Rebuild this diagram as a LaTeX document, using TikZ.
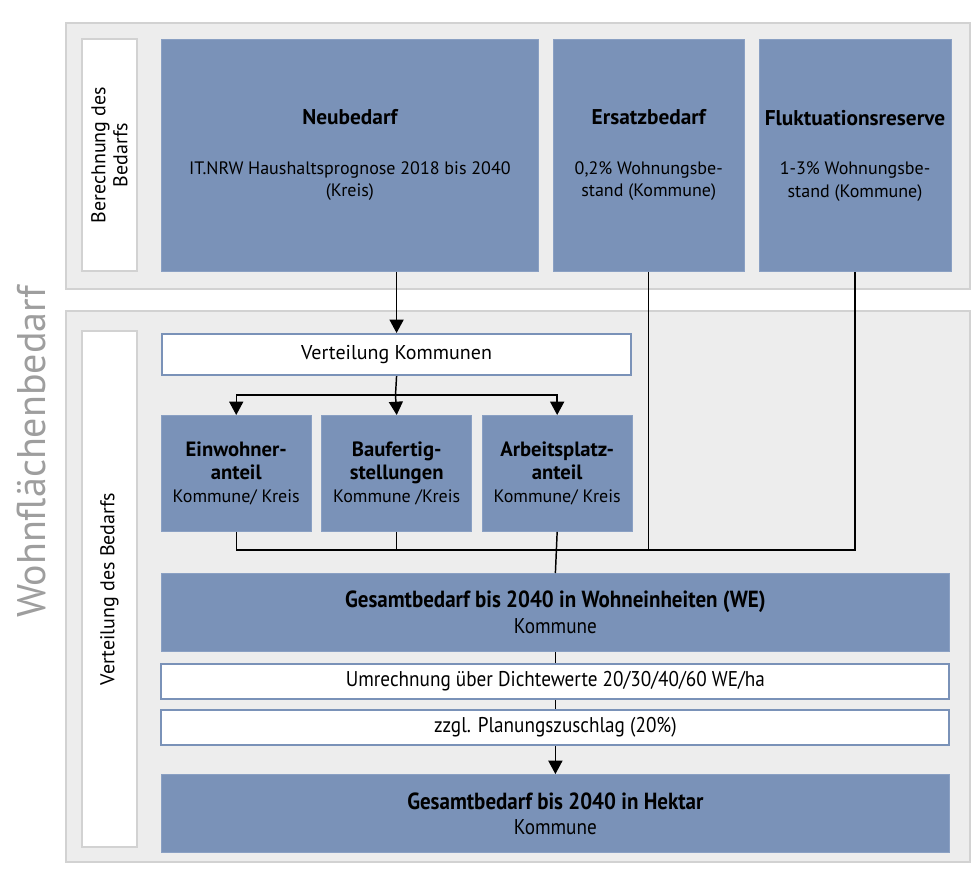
\documentclass[tikz,border=0pt]{standalone}
\usepackage{fontspec}
\setmainfont{PT Sans}
\newfontfamily\narrowfont[FakeStretch=0.9]{PT Sans}
\usetikzlibrary{arrows.meta, positioning}

\definecolor{boxblue}{RGB}{122,146,184}
\definecolor{boxedge}{RGB}{138,160,195}
\definecolor{panelgray}{RGB}{237,237,237}
\definecolor{paneledge}{RGB}{210,210,210}
\definecolor{titlegray}{RGB}{158,158,158}

\begin{document}
\begin{tikzpicture}[
    x=0.75pt, y=-0.75pt,
    panel/.style={draw=paneledge, fill=panelgray, line width=1pt},
    sidebox/.style={draw=paneledge, fill=white, line width=1pt, rotate=90, inner sep=0pt, align=center, minimum height=41.25pt, font=\fontsize{15}{16.5}\selectfont},
    bluebox/.style={draw=boxedge, fill=boxblue, line width=0.6pt, anchor=north west, inner sep=2pt, align=center, font=\fontsize{13.5}{17}\selectfont},
    whitebox/.style={draw=boxblue, fill=white, line width=1.6pt, anchor=north west, inner sep=0pt, align=center, font=\fontsize{13.5}{17}\selectfont},
    conn/.style={line width=1.1pt, black},
    >={Triangle[width=10.5pt, length=10pt]},
]
\useasboundingbox (0,0) rectangle (971,883);

% panels
\draw[panel] (66,23) rectangle (970,289);
\draw[panel] (66,311) rectangle (970,862);
\node[rotate=90, text=titlegray, font=\fontsize{30}{34}\selectfont] (title) at (31,452) {Wohnflächenbedarf};

% Berechnung des Bedarfs
\node[sidebox, minimum width=174pt] (lab1) at (109.5,155) {Berechnung des\\Bedarfs};
\node[bluebox, minimum width=282.75pt, minimum height=174pt] (neu) at (161,39) {%
{\fontsize{16}{17}\selectfont\bfseries Neubedarf}\\[20pt]%
IT.NRW Haushaltsprognose 2018 bis 2040\\(Kreis)%
};
\node[bluebox, minimum width=143.25pt, minimum height=174pt, right=10.5pt of neu] (ersatz) {%
{\fontsize{16}{17}\selectfont\bfseries Ersatzbedarf}\\[20pt]%
0,2\% Wohnungsbe-\\stand (Kommune)%
};
\node[bluebox, minimum width=144pt, minimum height=174pt, right=10.5pt of ersatz] (flukt) {%
{\fontsize{16}{17}\selectfont\bfseries Fluktuationsreserve}\\[20pt]%
1-3\% Wohnungsbe-\\stand (Kommune)%
};

% Verteilung des Bedarfs
\node[sidebox, minimum width=387pt] (lab2) at (109.5,589) {Verteilung des Bedarfs};
\node[whitebox, minimum width=351.75pt, minimum height=30.75pt, font=\fontsize{15}{17}\selectfont] (vk) at (161,333) {Verteilung Kommunen};
\node[bluebox, minimum width=112.25pt, minimum height=87pt] (ew) at (161,415) {%
{\fontsize{15.5}{17}\selectfont\bfseries Einwohner-}\\{\fontsize{15.5}{17}\selectfont\bfseries anteil}\\Kommune/ Kreis%
};
\node[bluebox, minimum width=112.25pt, minimum height=87pt, right=7.5pt of ew] (bf) {%
{\fontsize{15.5}{17}\selectfont\bfseries Baufertig-}\\{\fontsize{15.5}{17}\selectfont\bfseries stellungen}\\Kommune /Kreis%
};
\node[bluebox, minimum width=112.25pt, minimum height=87pt, right=7.5pt of bf] (ap) {%
{\fontsize{15.5}{17}\selectfont\bfseries Arbeitsplatz-}\\{\fontsize{15.5}{17}\selectfont\bfseries anteil}\\Kommune/ Kreis%
};
\node[bluebox, minimum width=591pt, minimum height=58.5pt, font=\narrowfont\fontsize{16}{19}\selectfont] (we) at (161,573) {%
{\fontsize{17.5}{19}\selectfont\bfseries Gesamtbedarf bis 2040 in Wohneinheiten (WE)}\\Kommune%
};
\node[whitebox, minimum width=591pt, minimum height=26.25pt, font=\narrowfont\fontsize{16}{17}\selectfont, below=8.25pt of we] (um) {Umrechnung über Dichtewerte 20/30/40/60 WE/ha};
\node[whitebox, minimum width=591pt, minimum height=26.25pt, font=\narrowfont\fontsize{16}{17}\selectfont, below=6.75pt of um] (zz) {zzgl. Planungszuschlag (20\%)};
\node[bluebox, minimum width=591pt, minimum height=58.5pt, font=\narrowfont\fontsize{16}{19}\selectfont, below=21pt of zz] (ha) {%
{\fontsize{17.5}{19}\selectfont\bfseries Gesamtbedarf bis 2040 in Hektar}\\Kommune%
};

% connectors
\coordinate (split) at (395.5,395);
\coordinate (merge) at (555.2,550);
\draw[conn, ->] (neu.south -| vk.north) -- (vk.north);
\draw[conn] (vk.south) -- (split);
\draw[conn, ->] (split) -| (ew.north);
\draw[conn, ->] (split) -- (bf.north);
\draw[conn, ->] (split) -| (ap.north);
\draw[conn] (ew.south) |- (merge);
\draw[conn] (bf.south) -- (bf.south |- merge);
\draw[conn] (ersatz.south) |- (merge);
\draw[conn] (flukt.south) |- (merge);
\draw[conn] (ap.south) -- (we.north);
\draw[conn] (we.south) -- (um.north);
\draw[conn] (um.south) -- (zz.north);
\draw[conn, ->] (zz.south) -- (ha.north);
\end{tikzpicture}
\end{document}
